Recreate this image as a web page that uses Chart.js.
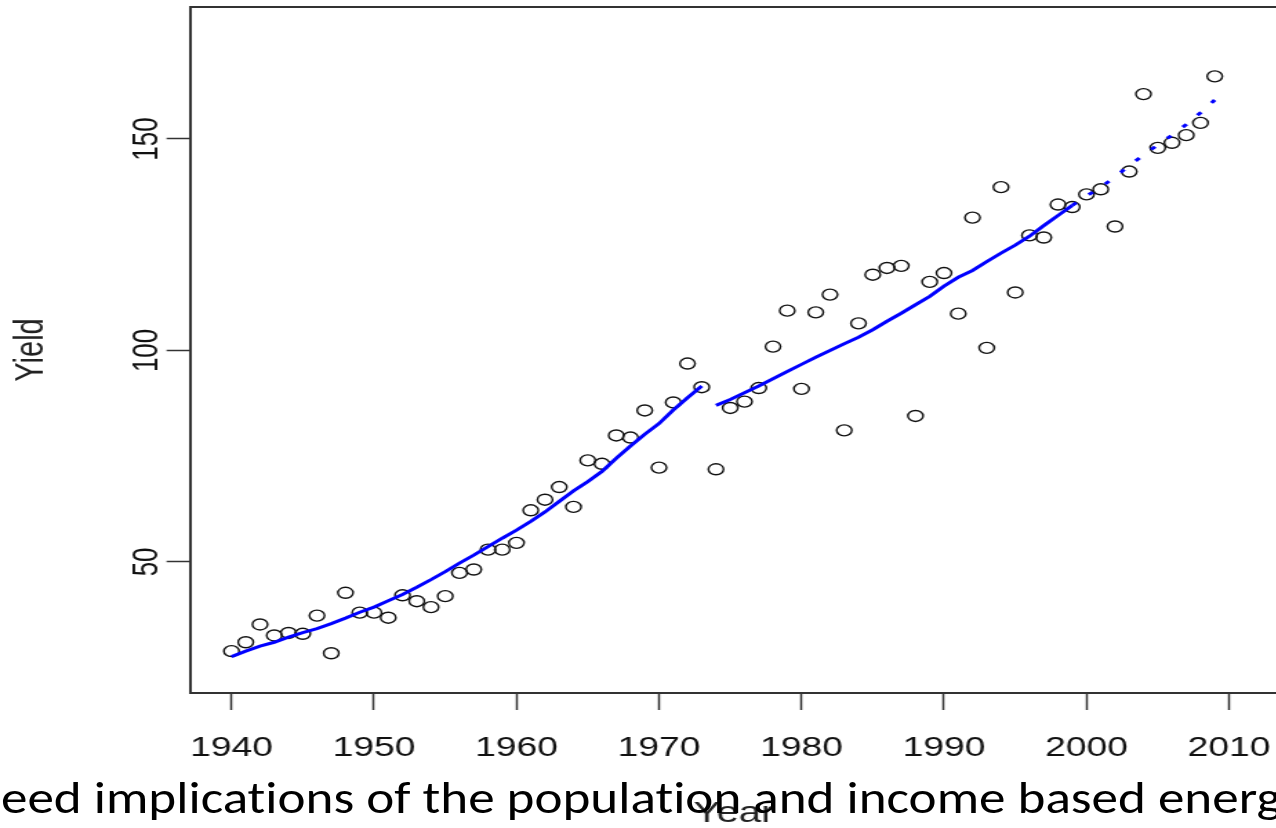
<!DOCTYPE html>
<html>
<head>
<meta charset="utf-8">
<script src="https://cdn.jsdelivr.net/npm/chart.js@4/dist/chart.umd.min.js"></script>
<style>
  html, body { margin:0; padding:0; background:#fff; }
  body { width:1276px; height:828px; overflow:hidden; position:relative; }
  #c { position:absolute; left:0; top:0; }
  #cap { position:absolute; left:1px; top:772px; white-space:nowrap; font-family: Carlito, Calibri, Lato, sans-serif;
         font-size:46px; line-height:46px; color:#000; transform-origin:0 0; font-variant-ligatures:none; font-feature-settings:"liga" 0; }
</style>
</head>
<body>
<canvas id="c" width="926" height="828" style="width:1278px;height:828px;"></canvas>
<div id="cap"><span id="pre">eed implications of the population and income based ener</span>g<span id="bl" style="display:inline-block;width:0;height:0;vertical-align:baseline"></span></div>
<script>
// ---- data ----
const years = [1940,1941,1942,1943,1944,1945,1946,1947,1948,1949,
               1950,1951,1952,1953,1954,1955,1956,1957,1958,1959,
               1960,1961,1962,1963,1964,1965,1966,1967,1968,1969,
               1970,1971,1972,1973,1974,1975,1976,1977,1978,1979,
               1980,1981,1982,1983,1984,1985,1986,1987,1988,1989,
               1990,1991,1992,1993,1994,1995,1996,1997,1998,1999,
               2000,2001,2002,2003,2004,2005,2006,2007,2008,2009];
const yields = [28.9,31.0,35.2,32.6,33.2,33.0,37.3,28.4,42.7,38.0,
                38.0,36.8,42.1,40.7,39.3,41.9,47.4,48.2,52.9,52.9,
                54.5,62.2,64.7,67.7,63.0,74.0,73.2,79.9,79.4,85.8,
                72.3,87.7,96.9,91.3,71.9,86.4,87.9,91.1,100.9,109.4,
                90.9,109.0,113.2,81.1,106.4,117.9,119.5,120.0,84.5,116.2,
                118.3,108.7,131.4,100.6,138.6,113.7,127.2,126.7,134.5,133.9,
                136.9,138.1,129.3,142.3,160.6,147.9,149.1,150.9,153.8,164.8];

const fit1Years = [1940,1941,1942,1943,1944,1945,1946,1947,1948,1949,
                   1950,1951,1952,1953,1954,1955,1956,1957,1958,1959,
                   1960,1961,1962,1963,1964,1965,1966,1967,1968,1969,
                   1970,1971,1972,1973];
const fit1Values = [27.6,28.9,30.1,31.0,32.2,33.3,34.2,35.4,36.7,38.1,
                    39.3,40.8,42.3,44.0,45.8,47.7,49.7,51.6,53.6,55.6,
                    57.5,59.6,61.8,64.3,66.8,69.0,71.4,74.5,77.4,80.2,
                    82.7,85.9,88.8,91.6];

const fit2Years = [1974,1975,1976,1977,1978,1979,1980,1981,1982,1983,
                   1984,1985,1986,1987,1988,1989,1990,1991,1992,1993,
                   1994,1995,1996,1997,1998,1999];
const fit2Values = [87.0,88.4,90.0,91.6,93.3,95.0,96.7,98.4,100.0,101.6,
                    103.1,104.9,106.9,108.8,110.8,112.8,115.2,117.3,118.9,121.0,
                    123.0,124.9,127.0,129.5,131.9,134.3];

const predYears  = [1999,2000,2001,2002,2003,2004,2005,2006,2007,2008,2009];
const predValues = [134.3,136.5,138.6,141.0,143.7,146.2,148.6,150.9,153.4,156.2,159.2];

const xTickValues = [1940,1950,1960,1970,1980,1990,2000,2010];
const yTickValues = [50,100,150];
const xLabel = 'Year';
const yLabel = 'Yield';

// ---- helpers ----
const toPts = (xs, ys) => xs.map((x, i) => ({x: x, y: ys[i]}));
const SX = 1278 / 926;   // horizontal stretch of the original picture

const boxPlugin = {
  id: 'box',
  afterDraw(chart) {
    const a = chart.chartArea, ctx = chart.ctx;
    ctx.save();
    ctx.strokeStyle = '#333';
    ctx.lineWidth = 2;
    ctx.beginPath();
    ctx.moveTo(a.left, a.top);
    ctx.lineTo(a.right, a.top);
    ctx.lineTo(a.right, a.bottom);
    ctx.stroke();
    ctx.restore();
  }
};

new Chart(document.getElementById('c'), {
  type: 'scatter',
  data: {
    datasets: [
      { data: toPts(fit1Years, fit1Values), showLine: true, borderColor: '#0000ff', borderWidth: 3,
        pointRadius: 0, fill: false, tension: 0, order: 0 },
      { data: toPts(fit2Years, fit2Values), showLine: true, borderColor: '#0000ff', borderWidth: 3,
        pointRadius: 0, fill: false, tension: 0, order: 0 },
      { data: toPts(predYears, predValues), showLine: true, borderColor: '#0000ff', borderWidth: 3,
        borderDash: [4, 12], borderCapStyle: 'butt', pointRadius: 0, fill: false, tension: 0, order: 0 },
      { data: toPts(years, yields), showLine: false, pointStyle: 'circle', pointRadius: 5.5,
        pointBorderWidth: 1.4, pointBorderColor: '#111', pointBackgroundColor: 'rgba(0,0,0,0)',
        borderColor: '#111', backgroundColor: 'rgba(0,0,0,0)', order: 1 }
    ]
  },
  options: {
    responsive: false,
    devicePixelRatio: 1,
    animation: false,
    events: [],
    layout: { padding: { top: 7, left: 0, right: 0, bottom: 0 }, autoPadding: false },
    plugins: { legend: { display: false }, tooltip: { enabled: false } },
    scales: {
      x: {
        type: 'linear', position: 'bottom',
        min: 1937.088, max: 2013.44,
        afterBuildTicks: s => { s.ticks = xTickValues.map(v => ({value: v})); },
        afterFit: s => { s.height = 135; s.paddingLeft = 0; s.paddingRight = 0; },
        grid: { display: true, drawOnChartArea: false, drawTicks: true, tickLength: 17,
                color: '#333', tickColor: '#333', tickWidth: 1.5 },
        border: { display: true, color: '#333', width: 2 },
        ticks: { color: '#111', padding: 22, maxRotation: 0, minRotation: 0, autoSkip: false,
                 font: { family: 'Liberation Sans, Arial, sans-serif', size: 27 },
                 callback: v => String(v) },
        title: { display: true, text: xLabel, color: '#222', padding: { top: 0, bottom: 0 },
                 font: { family: 'Liberation Sans, Arial, sans-serif', size: 29, lineHeight: 1 } }
      },
      y: {
        type: 'linear', position: 'left',
        min: 19.0, max: 181.2,
        afterBuildTicks: s => { s.ticks = yTickValues.map(v => ({value: v})); },
        afterFit: s => { s.width = 190 / SX; s.paddingTop = 0; s.paddingBottom = 0; },
        grid: { display: true, drawOnChartArea: false, drawTicks: true, tickLength: 17,
                color: '#333', tickColor: '#333', tickWidth: 1.5 },
        border: { display: true, color: '#333', width: 2 },
        ticks: { color: '#111', padding: -8, minRotation: 90, maxRotation: 90, crossAlign: 'center',
                 font: { family: 'Liberation Sans, Arial, sans-serif', size: 26 },
                 callback: v => String(v) },
        title: { display: true, text: yLabel, color: '#222', padding: { top: 8, bottom: 0 },
                 font: { family: 'Liberation Sans, Arial, sans-serif', size: 29, lineHeight: 1 } }
      }
    }
  },
  plugins: [boxPlugin]
});

// caption overlay (slide text), fitted to the visible span
(function () {
  const cap = document.getElementById('cap');
  const pre = document.getElementById('pre');
  const bl = document.getElementById('bl');
  const k = 1256 / pre.offsetWidth;
  cap.style.transform = 'scaleX(' + k + ')';
  const base = bl.offsetTop;
  cap.style.top = (813 - base) + 'px';
})();
</script>
</body>
</html>
